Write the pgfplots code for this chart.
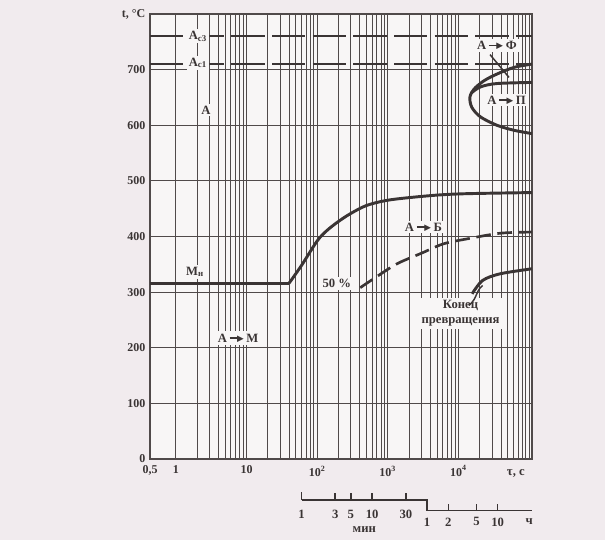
\documentclass[border=0pt]{standalone}
\usepackage{fontspec}
\setmainfont{Liberation Serif}
\newfontfamily\dv{DejaVu Sans}
\usepackage{pgfplots}
\pgfplotsset{compat=1.18}
\definecolor{bgout}{RGB}{241,235,238}
\definecolor{bgin}{RGB}{248,246,246}
\definecolor{ink}{RGB}{58,52,52}
\definecolor{gridc}{RGB}{80,74,74}
\newcommand\arr{\kern2pt\rule[0.27em]{0.75em}{1.2pt}\kern-1.5pt\raisebox{0.07em}{\dv\fontsize{6.5}{6.5}\selectfont ▶}\kern2pt}
\newcommand\lf{\bfseries\fontsize{9.5}{11}\selectfont}
\begin{document}
\begin{tikzpicture}
\fill[bgout] (0,0) rectangle (453.75pt,405pt);
\path[use as bounding box] (0,0) rectangle (453.75pt,405pt);
\begin{axis}[
 at={(112.5pt,60.75pt)}, anchor=south west,
 width=286.5pt, height=333.75pt, scale only axis,
 xmode=log, xmin=0.43, xmax=1.1e5, ymin=0, ymax=800,
 axis background/.style={fill=bgin},
 clip=false,
 xtick={0.43,1,10,100,1000,10000},
 xticklabels={{0,5},1,10,10\textsuperscript{2},10\textsuperscript{3},10\textsuperscript{4}},
 minor xtick={2,3,4,5,6,7,8,9,20,30,40,50,60,70,80,90,200,300,400,500,600,700,800,900,2000,3000,4000,5000,6000,7000,8000,9000,20000,30000,40000,50000,60000,70000,80000,90000,100000},
 ytick={0,100,200,300,400,500,600,700,800},
 yticklabels={{0\hspace{6pt}},100,200,300,400,500,600,700,{t, °C}},
 grid=both,
 major grid style={gridc, line width=0.8pt},
 minor grid style={gridc, line width=0.7pt},
 major tick length=0pt, minor tick length=0pt,
 axis line style={gridc, line width=0.9pt},
 ticklabel style={font=\bfseries\fontsize{9}{10}\selectfont, text=ink},
 xticklabel style={yshift=-1.5pt},
 /pgf/number format/assume math mode=true,
]
% critical points
\addplot[ink, line width=1.3pt, dash pattern=on 25pt off 5.5pt] coordinates {(0.43,760) (110000,760)};
\addplot[ink, line width=1.3pt, dash pattern=on 25pt off 5.5pt] coordinates {(0.43,710) (110000,710)};
% labels
\node[fill=bgin, inner sep=1.5pt, text=ink, font=\lf] at (axis cs:2.05,760) {А\textsubscript{с3}};
\node[fill=bgin, inner sep=1.5pt, text=ink, font=\lf] at (axis cs:2.05,712) {А\textsubscript{с1}};
\node[fill=bgin, inner sep=1.5pt, text=ink, font=\lf] at (axis cs:2.67,627) {А};
\node[fill=bgin, inner sep=1.5pt, text=ink, font=\lf] at (axis cs:1.86,336) {М\textsubscript{н}};
\node[fill=bgin, inner sep=2pt, text=ink, font=\lf] at (axis cs:7.6,217) {А\arr М};
\node[fill=bgin, inner sep=1.5pt, text=ink, font=\lf] at (axis cs:190,316) {50 \%};
\node[fill=bgin, inner sep=1.5pt, text=ink, font=\lf] at (axis cs:3200,417) {А\arr Б};
\node[fill=bgin, inner sep=2pt, text=ink, font=\lf, align=center] at (axis cs:10700,262) {Конец\\превращения};
\node[fill=bgin, inner sep=1.5pt, text=ink, font=\lf] at (axis cs:35000,743) {А\arr Ф};
\node[fill=bgin, inner sep=1.5pt, text=ink, font=\lf] at (axis cs:48000,645) {А\arr П};
% martensite start
\addplot[ink, line width=2.2pt] coordinates {(0.43,316) (40,316)};
% bainite start
\addplot[ink, line width=2.2pt, smooth] coordinates {(40,316) (60,348) (100,392) (138,411) (200,427) (295,441) (505,456) (1090,466) (4470,474) (13200,477) (110000,479)};
% 50 %
\addplot[ink, line width=2pt, dash pattern=on 11pt off 5pt, smooth] coordinates {(407,308) (700,328) (1350,351) (3000,370) (6200,387) (15000,397) (39700,406) (110000,408)};
% end of transformation
\addplot[ink, line width=2.2pt, smooth] coordinates {(15600,297) (22000,321) (39000,333) (110000,342)};
% pearlite C-curves
\addplot[ink, line width=2.2pt, smooth] coordinates {(110000,710) (61000,704) (35000,692) (23000,680) (16600,665) (14500,650) (15500,632) (20500,615) (35000,600) (61000,591) (110000,585)};
\addplot[ink, line width=2.2pt, smooth] coordinates {(15200,658) (20500,669) (35000,675) (110000,677)};
% leaders
\draw[ink, line width=1.1pt] (axis cs:28000,727) -- (axis cs:52000,686);
\draw[ink, line width=1.1pt] (axis cs:14000,276) .. controls (axis cs:19000,290) and (axis cs:17000,300) .. (axis cs:22000,312);
% x unit
\node[text=ink, font=\lf] at (axis cs:65000,-26) {τ, с};
% minute / hour scale
\addplot[ink, line width=1.1pt] coordinates {(60,-74) (3600,-74) (3600,-93) (110000,-93)};
\addplot[ink, line width=1.1pt] coordinates {(60,-74) (60,-60)};
\addplot[ink, line width=1.1pt] coordinates {(180,-74) (180,-61)};
\addplot[ink, line width=1.1pt] coordinates {(300,-74) (300,-61)};
\addplot[ink, line width=1.1pt] coordinates {(600,-74) (600,-61)};
\addplot[ink, line width=1.1pt] coordinates {(1800,-74) (1800,-61)};
\addplot[ink, line width=1.1pt] coordinates {(7200,-93) (7200,-80)};
\addplot[ink, line width=1.1pt] coordinates {(18000,-93) (18000,-80)};
\addplot[ink, line width=1.1pt] coordinates {(36000,-93) (36000,-80)};
\node[text=ink, font=\lf] at (axis cs:60,-100) {1};
\node[text=ink, font=\lf] at (axis cs:180,-100) {3};
\node[text=ink, font=\lf] at (axis cs:300,-100) {5};
\node[text=ink, font=\lf] at (axis cs:600,-100) {10};
\node[text=ink, font=\lf] at (axis cs:1800,-100) {30};
\node[text=ink, font=\lf] at (axis cs:465,-126) {мин};
\node[text=ink, font=\lf] at (axis cs:3600,-113) {1};
\node[text=ink, font=\lf] at (axis cs:7200,-113) {2};
\node[text=ink, font=\lf] at (axis cs:18000,-113) {5};
\node[text=ink, font=\lf] at (axis cs:36000,-113) {10};
\node[text=ink, font=\lf] at (axis cs:100000,-113) {ч};
\end{axis}
\end{tikzpicture}
\end{document}
